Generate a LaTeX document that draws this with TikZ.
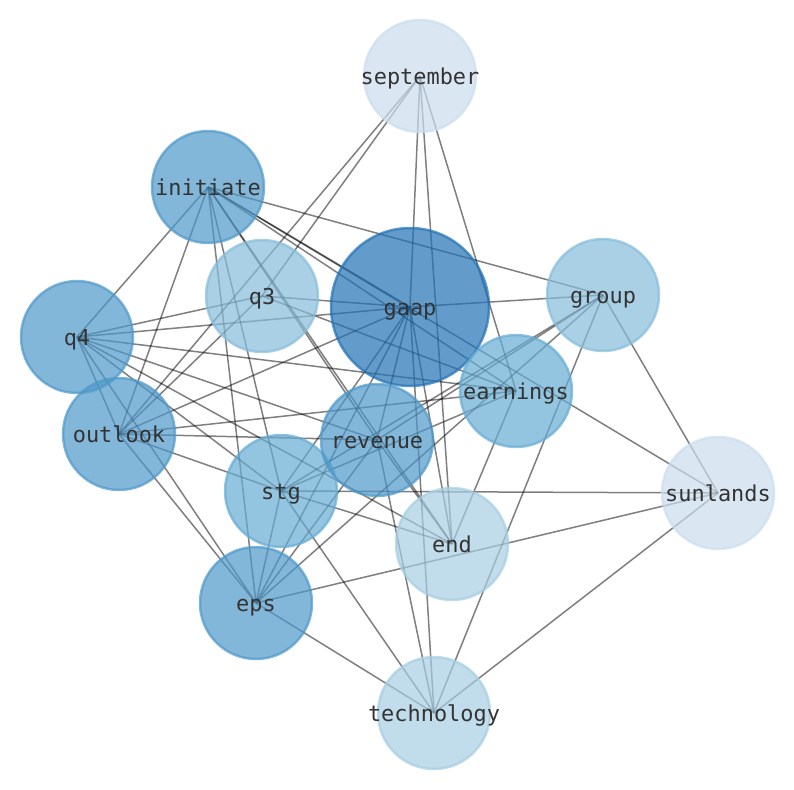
\documentclass[tikz,border=0pt]{standalone}
\usepackage{fontspec}
\setmonofont{DejaVu Sans Mono}
\usetikzlibrary{backgrounds}
\definecolor{bleuA}{RGB}{33,113,181}
\definecolor{bleuB}{RGB}{78,152,201}
\definecolor{bleuC}{RGB}{101,171,211}
\definecolor{bleuD}{RGB}{134,188,218}
\definecolor{bleuE}{RGB}{166,205,226}
\definecolor{bleuF}{RGB}{202,221,238}
\tikzstyle{mot} = [circle, draw, line width=2.5bp, fill opacity=0.7, draw opacity=0.7, minimum size=112bp, inner sep=0pt]
\tikzstyle{mot_texte} = [text=black!80, font=\ttfamily\fontsize{22}{22}\selectfont, text height=16bp, text depth=0bp, inner sep=0pt]
\tikzstyle{mot_A} = [mot, fill=bleuA, draw=bleuA, minimum size=158bp]
\tikzstyle{mot_B} = [mot, fill=bleuB, draw=bleuB]
\tikzstyle{mot_C} = [mot, fill=bleuC, draw=bleuC]
\tikzstyle{mot_D} = [mot, fill=bleuD, draw=bleuD]
\tikzstyle{mot_E} = [mot, fill=bleuE, draw=bleuE]
\tikzstyle{mot_F} = [mot, fill=bleuF, draw=bleuF]
\tikzstyle{lien} = [draw=black, draw opacity=0.5, line width=1.5bp]
\begin{document}
\begin{tikzpicture}[x=1bp, y=-1bp]
    \useasboundingbox (0,0) rectangle (794,790);
    \node [mot_F, label={[mot_texte]center:september}] (september) at (420,76) {};
    \node [mot_B, label={[mot_texte]center:initiate}] (initiate) at (208,187) {};
    \node [mot_D, label={[mot_texte]center:q3}] (q3) at (262,296) {};
    \node [mot_A, label={[mot_texte]center:gaap}] (gaap) at (410,307) {};
    \node [mot_D, label={[mot_texte]center:group}] (group) at (603,295) {};
    \node [mot_B, label={[mot_texte]center:q4}] (q4) at (77,337) {};
    \node [mot_B, label={[mot_texte]center:outlook}] (outlook) at (119,434) {};
    \node [mot_C, label={[mot_texte]center:stg}] (stg) at (281,491) {};
    \node [mot_B, label={[mot_texte]center:revenue}] (revenue) at (377,440) {};
    \node [mot_C, label={[mot_texte]center:earnings}] (earnings) at (516,391) {};
    \node [mot_F, label={[mot_texte]center:sunlands}] (sunlands) at (718,493) {};
    \node [mot_E, label={[mot_texte]center:end}] (end) at (452,544) {};
    \node [mot_B, label={[mot_texte]center:eps}] (eps) at (256,603) {};
    \node [mot_E, label={[mot_texte]center:technology}] (technology) at (434,713) {};

  \begin{pgfonlayer}{background}
    \path[lien] (september.center) edge (q3.center)
     (september.center) edge (outlook.center)
     (september.center) edge (gaap.center)
     (september.center) edge (end.center)
     (september.center) edge (earnings.center);
    \path[lien] (initiate.center) edge (q4.center)
     (initiate.center) edge (outlook.center)
     (initiate.center) edge (eps.center)
     (initiate.center) edge (stg.center)
     (initiate.center) edge (revenue.center)
     (initiate.center) edge (end.center)
     (initiate.center) edge (gaap.center)
     (initiate.center) edge (earnings.center)
     (initiate.center) edge (group.center)
     (initiate.center) edge (sunlands.center);
    \path[lien] (q3.center) edge (q4.center)
     (q3.center) edge (gaap.center)
     (q3.center) edge (earnings.center)
     (q3.center) edge (outlook.center);
    \path[lien] (q4.center) edge (gaap.center)
     (q4.center) edge (earnings.center)
     (q4.center) edge (revenue.center)
     (q4.center) edge (end.center)
     (q4.center) edge (stg.center)
     (q4.center) edge (eps.center)
     (q4.center) edge (outlook.center);
    \path[lien] (gaap.center) edge (group.center)
     (gaap.center) edge (outlook.center)
     (gaap.center) edge (stg.center)
     (gaap.center) edge (eps.center)
     (gaap.center) edge (revenue.center)
     (gaap.center) edge (end.center)
     (gaap.center) edge (technology.center);
    \path[lien] (group.center) edge (stg.center)
     (group.center) edge (revenue.center)
     (group.center) edge (eps.center)
     (group.center) edge (technology.center)
     (group.center) edge (sunlands.center);
    \path[lien] (earnings.center) edge (end.center)
     (earnings.center) edge (outlook.center)
     (earnings.center) edge (stg.center);
    \path[lien] (outlook.center) edge (revenue.center)
     (outlook.center) edge (stg.center)
     (outlook.center) edge (eps.center);
    \path[lien] (revenue.center) edge (technology.center)
     (revenue.center) edge (eps.center)
     (revenue.center) edge (end.center);
    \path[lien] (stg.center) edge (sunlands.center)
     (stg.center) edge (end.center)
     (stg.center) edge (eps.center)
     (stg.center) edge (technology.center);
    \path[lien] (sunlands.center) edge (eps.center)
     (sunlands.center) edge (technology.center)
     (eps.center) edge (technology.center);
  \end{pgfonlayer}
\end{tikzpicture}
\end{document}
